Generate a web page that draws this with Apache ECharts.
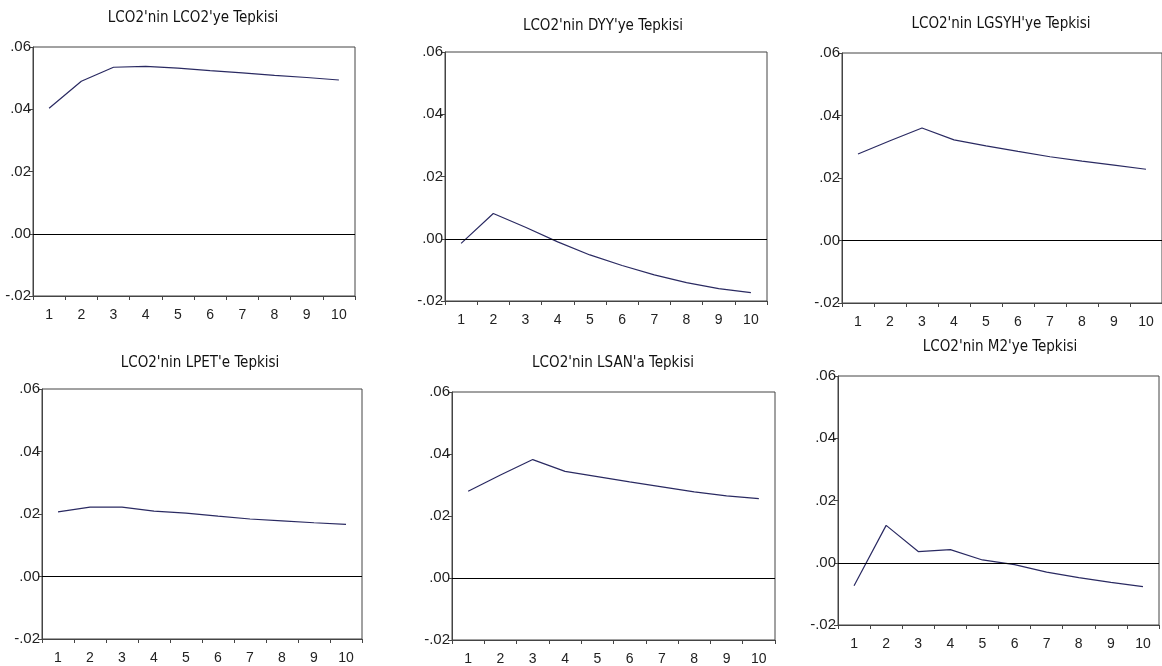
<!DOCTYPE html>
<html>
<head>
<meta charset="utf-8">
<script src="https://cdn.jsdelivr.net/npm/echarts@6/dist/echarts.min.js"></script>
<style>
  html, body { margin: 0; padding: 0; background: #fff; }
  #irf { width: 1162px; height: 666px; }
</style>
</head>
<body>
<div id="irf"></div>
<script>
// dönemler (x ekseni)
const periods = ['1', '2', '3', '4', '5', '6', '7', '8', '9', '10'];
const yTicks = [-0.02, 0.00, 0.02, 0.04, 0.06];

// tepki değerleri
const lco2 = [0.0403, 0.0490, 0.0535, 0.0538, 0.0532, 0.0524, 0.0517, 0.0509, 0.0502, 0.0494];
const dyy = [-0.0015, 0.0081, 0.0037, -0.0010, -0.0052, -0.0086, -0.0116, -0.0141, -0.0160, -0.0173];
const lgsyh = [0.0277, 0.0319, 0.0360, 0.0322, 0.0303, 0.0285, 0.0268, 0.0254, 0.0241, 0.0228];
const lpet = [0.0207, 0.0222, 0.0222, 0.0209, 0.0203, 0.0193, 0.0184, 0.0178, 0.0172, 0.0167];
const lsan = [0.0280, 0.0332, 0.0382, 0.0344, 0.0327, 0.0310, 0.0294, 0.0278, 0.0265, 0.0256];
const m2 = [-0.0074, 0.0120, 0.0036, 0.0042, 0.0009, -0.0006, -0.0030, -0.0048, -0.0063, -0.0077];

const titles = [
  "LCO2'nin LCO2'ye Tepkisi",
  "LCO2'nin DYY'ye Tepkisi",
  "LCO2'nin LGSYH'ye Tepkisi",
  "LCO2'nin LPET'e Tepkisi",
  "LCO2'nin LSAN'a Tepkisi",
  "LCO2'nin M2'ye Tepkisi"
];
const values = [lco2, dyy, lgsyh, lpet, lsan, m2];

// panel yerleşimi: grid kutusu ve başlık merkezi
const panels = [
  { left: 33, top: 47, width: 322, height: 249, tx: 193, ty: 18 },
  { left: 445, top: 52, width: 322, height: 249, tx: 603, ty: 26 },
  { left: 842, top: 53, width: 321, height: 250, tx: 1001, ty: 24 },
  { left: 42, top: 389, width: 320, height: 250, tx: 200, ty: 363 },
  { left: 452, top: 392, width: 323, height: 249, tx: 613, ty: 363 },
  { left: 838, top: 376, width: 321, height: 249, tx: 1000, ty: 347 }
];

const TITLE_FONT = "'Liberation Sans Narrow', 'DejaVu Sans Condensed', Arial, sans-serif";
const LABEL_FONT = "'Liberation Sans', Arial, sans-serif";

function fmt (v) {
  return v.toFixed(2).replace('0.', '.');
}

const myechart = echarts.init(document.getElementById('irf'));

let grid = [], xAxis = [], yAxis = [], series = [], graphic = [];
panels.forEach((p, i) => {
  grid.push({
    left: p.left, top: p.top, width: p.width, height: p.height,
    show: true, borderColor: '#444', borderWidth: 1, backgroundColor: '#fff'
  });
  xAxis.push({
    type: 'category',
    gridIndex: i,
    data: periods,
    boundaryGap: true,
    axisLine: { onZero: false, lineStyle: { color: '#444', width: 1 } },
    axisTick: { show: true, length: 4, lineStyle: { color: '#444' } },
    axisLabel: { color: '#222', fontSize: 14, fontFamily: LABEL_FONT, margin: 12 },
    splitLine: { show: false }
  });
  yAxis.push({
    type: 'value',
    gridIndex: i,
    min: yTicks[0],
    max: yTicks[yTicks.length - 1],
    interval: 0.02,
    axisLine: { show: true, onZero: false, lineStyle: { color: '#444', width: 1 } },
    axisTick: { show: true, length: 4, lineStyle: { color: '#444' } },
    axisLabel: { color: '#222', fontSize: 15, fontFamily: LABEL_FONT, margin: 2, formatter: fmt },
    splitLine: { show: false }
  });
  series.push({
    type: 'line',
    xAxisIndex: i,
    yAxisIndex: i,
    data: values[i],
    symbol: 'none',
    lineStyle: { color: '#2a2a62', width: 1.2 },
    markLine: {
      silent: true,
      symbol: ['none', 'none'],
      label: { show: false },
      lineStyle: { color: '#000', type: 'solid', width: 1 },
      data: [{ yAxis: 0 }]
    }
  });
  graphic.push({
    type: 'text',
    x: p.tx,
    y: p.ty,
    style: {
      text: titles[i],
      fill: '#111',
      font: '15px ' + TITLE_FONT,
      textAlign: 'center',
      textVerticalAlign: 'middle'
    }
  });
});

let option = {
  animation: false,
  backgroundColor: '#fff',
  grid: grid,
  xAxis: xAxis,
  yAxis: yAxis,
  series: series,
  graphic: graphic
};
myechart.setOption(option);
window.onresize = () => { myechart.resize() }
</script>
</body>
</html>
